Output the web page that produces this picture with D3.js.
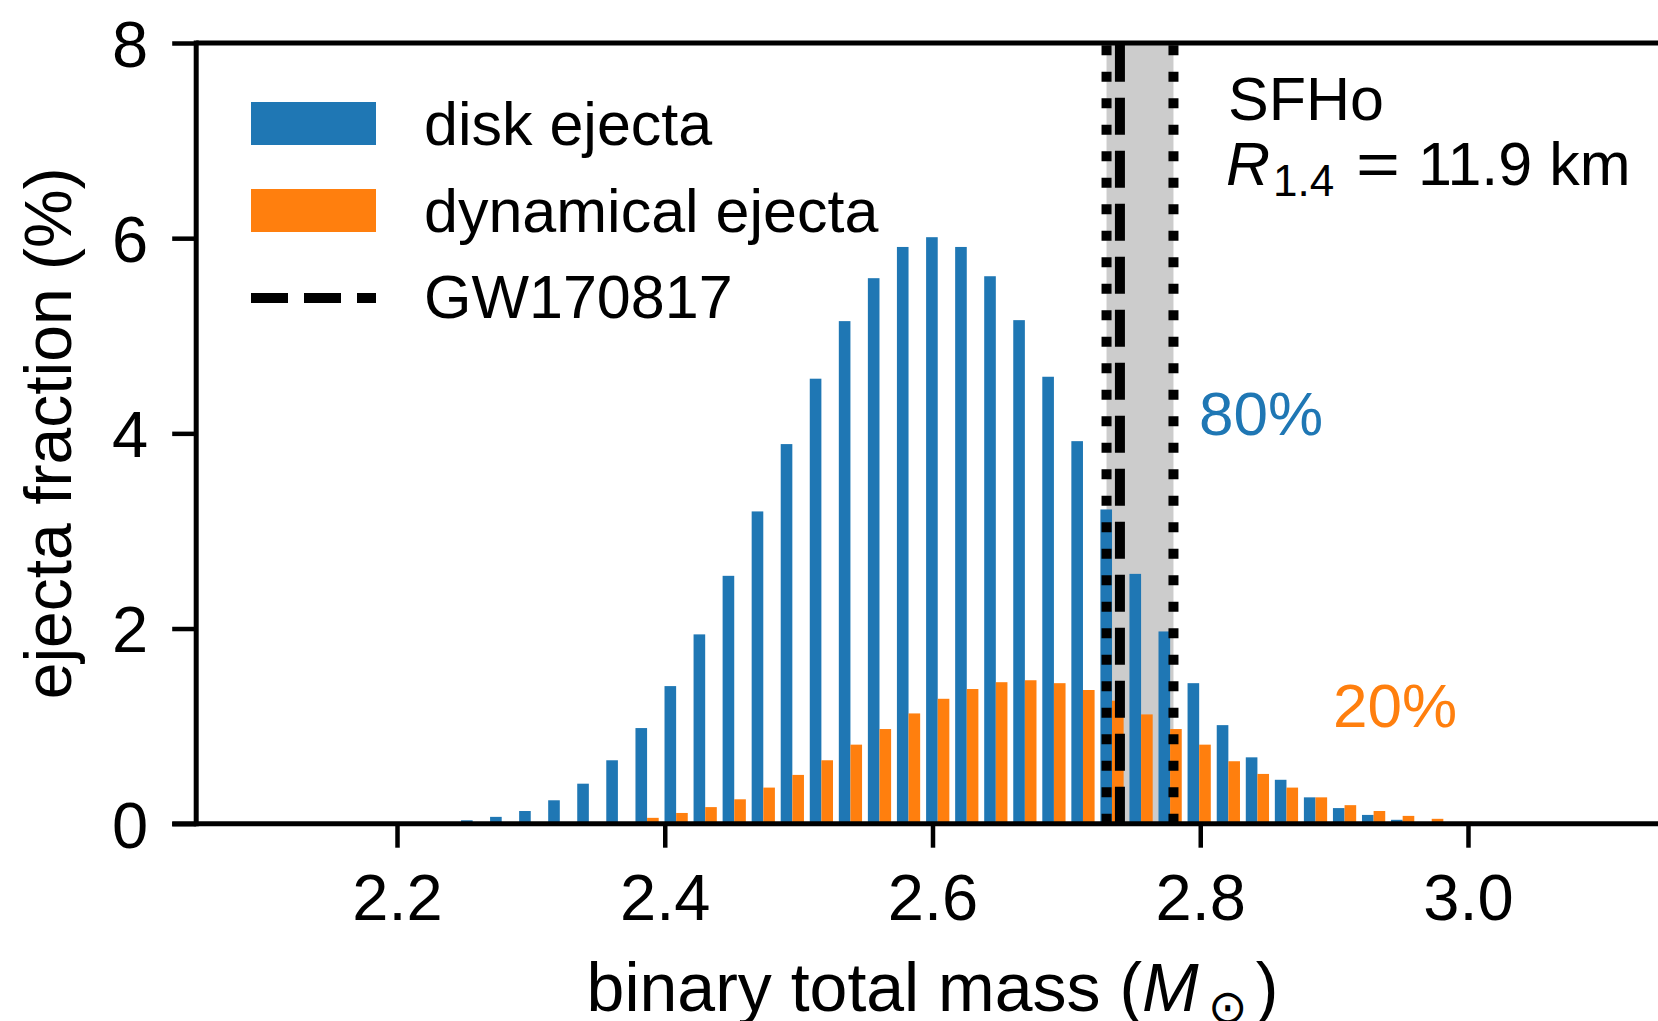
<!DOCTYPE html>
<html>
<head>
<meta charset="utf-8">
<script src="https://cdn.jsdelivr.net/npm/d3@7"></script>
<style>
  html, body { margin: 0; padding: 0; background: #ffffff; }
  svg { display: block; }
  text { font-family: "Liberation Sans", Arial, Helvetica, sans-serif; }
</style>
</head>
<body>
<svg id="chart" width="1658" height="1021"></svg>
<script>
// ---- data ----
const binCenters = [2.2565, 2.2782, 2.2999, 2.3216, 2.3433, 2.3650, 2.3868, 2.4085, 2.4302, 2.4519,
                    2.4736, 2.4953, 2.5170, 2.5387, 2.5604, 2.5821, 2.6039, 2.6256, 2.6473, 2.6690,
                    2.6907, 2.7124, 2.7341, 2.7558, 2.7775, 2.7992, 2.8210, 2.8427, 2.8644, 2.8861,
                    2.9078, 2.9295, 2.9512, 2.9729, 2.9946];
const diskEjecta = [0.035, 0.07, 0.13, 0.24, 0.41, 0.65, 0.98, 1.41, 1.94, 2.54,
                    3.20, 3.89, 4.56, 5.15, 5.59, 5.91, 6.01, 5.91, 5.61, 5.16,
                    4.58, 3.92, 3.22, 2.56, 1.97, 1.44, 1.01, 0.68, 0.45, 0.27,
                    0.16, 0.09, 0.04, 0.005, 0];
const dynEjecta  = [0, 0, 0, 0, 0, 0.01, 0.06, 0.11, 0.17, 0.25,
                    0.37, 0.50, 0.65, 0.81, 0.97, 1.13, 1.28, 1.38, 1.45, 1.47,
                    1.44, 1.37, 1.26, 1.12, 0.97, 0.81, 0.64, 0.51, 0.37, 0.27,
                    0.19, 0.13, 0.08, 0.05, 0.02];
const xTicks = [2.2, 2.4, 2.6, 2.8, 3.0];
const yTicks = [0, 2, 4, 6, 8];
const gwMass = 2.74;
const gwLow = 2.73;
const gwHigh = 2.78;
const legendLabels = ["disk ejecta", "dynamical ejecta", "GW170817"];

(function () {
// ---- layout ----
const svg = d3.select("#chart");
const blue = "#1f77b4", orange = "#ff7f0e";
const pL = 196.2, pR = 1668.8, pT = 43, pB = 823.7;
const x = d3.scaleLinear().domain([2.05, 3.15]).range([pL, pR]);
const y = d3.scaleLinear().domain([0, 8]).range([pB, pT]);
const binW = binCenters[1] - binCenters[0];
const barW = x(binCenters[0] + 0.4 * binW) - x(binCenters[0]);

svg.append("rect").attr("width", 1658).attr("height", 1021).attr("fill", "#fff");

// grey band
svg.append("rect")
  .attr("x", x(gwLow)).attr("y", pT)
  .attr("width", x(gwHigh) - x(gwLow)).attr("height", pB - pT)
  .attr("fill", "#cccccc");

// bars
svg.append("g").selectAll("rect").data(binCenters).join("rect")
  .attr("x", (d) => x(d) - barW)
  .attr("width", barW)
  .attr("y", (d, i) => y(diskEjecta[i]))
  .attr("height", (d, i) => y(0) - y(diskEjecta[i]))
  .attr("fill", blue);
svg.append("g").selectAll("rect").data(binCenters).join("rect")
  .attr("x", (d) => x(d))
  .attr("width", barW)
  .attr("y", (d, i) => y(dynEjecta[i]))
  .attr("height", (d, i) => y(0) - y(dynEjecta[i]))
  .attr("fill", orange);

// vertical lines
function vline(v, dash) {
  svg.append("line")
    .attr("x1", x(v)).attr("x2", x(v))
    .attr("y1", y(0)).attr("y2", y(8))
    .attr("stroke", "#000").attr("stroke-width", 10)
    .attr("stroke-dasharray", dash);
}
vline(gwLow, "10,16.5");
vline(gwHigh, "10,16.5");
vline(gwMass, "37,16");

// axes
const xAxis = d3.axisBottom(x).tickValues(xTicks).tickFormat(d3.format(".1f"))
  .tickSize(24).tickPadding(26);
const gx = svg.append("g").attr("transform", `translate(0,${pB})`).call(xAxis);
gx.select(".domain").remove();
gx.selectAll(".tick line").attr("stroke", "#000").attr("stroke-width", 4.5);
gx.selectAll(".tick text").attr("font-size", 65).attr("fill", "#000")
  .attr("font-family", "Liberation Sans, Arial, sans-serif").attr("dy", "0.71em");

const yAxis = d3.axisLeft(y).tickValues(yTicks).tickFormat(d3.format("d"))
  .tickSize(24).tickPadding(24);
const gy = svg.append("g").attr("transform", `translate(${pL},0)`).call(yAxis);
gy.select(".domain").remove();
gy.selectAll(".tick line").attr("stroke", "#000").attr("stroke-width", 4.5);
gy.selectAll(".tick text").attr("font-size", 65).attr("fill", "#000")
  .attr("font-family", "Liberation Sans, Arial, sans-serif").attr("dy", "0.36em");

// spines
svg.append("line").attr("x1", pL).attr("x2", 1658).attr("y1", pT).attr("y2", pT)
  .attr("stroke", "#000").attr("stroke-width", 5);
svg.append("line").attr("x1", pL - 24).attr("x2", 1658).attr("y1", pB).attr("y2", pB)
  .attr("stroke", "#000").attr("stroke-width", 5);
svg.append("line").attr("x1", pL).attr("x2", pL).attr("y1", pT - 2.5).attr("y2", pB + 2.5)
  .attr("stroke", "#000").attr("stroke-width", 5);

// axis labels
const xl = svg.append("text").attr("x", (pL + pR) / 2).attr("y", 1011)
  .attr("text-anchor", "middle").attr("font-size", 68).attr("fill", "#000");
xl.append("tspan").text("binary total mass (");
xl.append("tspan").attr("font-style", "italic").text("M");
xl.append("tspan").attr("font-size", 47).attr("dy", 12).attr("dx", 9).text("\u2299");
xl.append("tspan").attr("dy", -12).attr("dx", 9).text(")");

svg.append("text").attr("transform", `translate(71,${(pT + pB) / 2}) rotate(-90)`)
  .attr("text-anchor", "middle").attr("font-size", 66).attr("fill", "#000")
  .text("ejecta fraction (%)");

// legend
const lg = svg.append("g");
lg.append("rect").attr("x", 251).attr("y", 102).attr("width", 125).attr("height", 43).attr("fill", blue);
lg.append("rect").attr("x", 251).attr("y", 189).attr("width", 125).attr("height", 43).attr("fill", orange);
lg.append("line").attr("x1", 251).attr("x2", 376).attr("y1", 298).attr("y2", 298)
  .attr("stroke", "#000").attr("stroke-width", 10).attr("stroke-dasharray", "37,16");
[145, 232, 318].forEach((by, i) => {
  lg.append("text").attr("x", 424).attr("y", by).attr("font-size", 61).attr("fill", "#000")
    .text(legendLabels[i]);
});

// annotations
svg.append("text").attr("x", 1228).attr("y", 120).attr("font-size", 61).attr("fill", "#000").text("SFHo");
svg.append("text").attr("x", 1226).attr("y", 185).attr("font-size", 61).attr("fill", "#000")
  .attr("font-style", "italic").text("R");
svg.append("text").attr("x", 1273).attr("y", 196).attr("font-size", 44).attr("fill", "#000").text("1.4");
svg.append("text").attr("x", 1356).attr("y", 185).attr("font-size", 61).attr("fill", "#000")
  .attr("textLength", 44).attr("lengthAdjust", "spacingAndGlyphs").text("=");
svg.append("text").attr("x", 1418).attr("y", 185).attr("font-size", 61).attr("fill", "#000").text("11.9 km");

svg.append("text").attr("x", 1199).attr("y", 435).attr("font-size", 62).attr("fill", blue).text("80%");
svg.append("text").attr("x", 1333).attr("y", 727).attr("font-size", 62).attr("fill", orange).text("20%");
})();
</script>
</body>
</html>
